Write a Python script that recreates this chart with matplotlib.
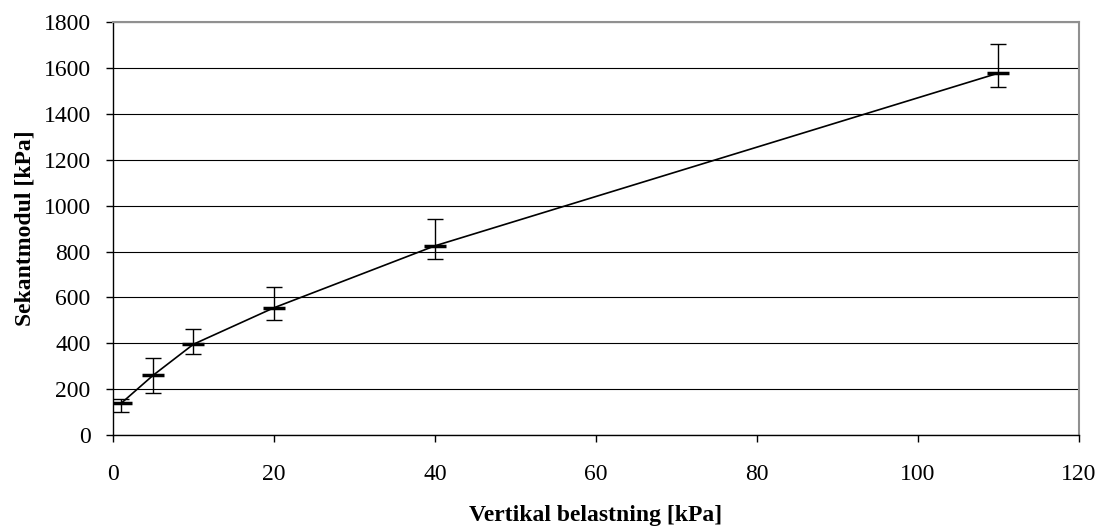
import matplotlib
matplotlib.use("Agg")
import matplotlib.pyplot as plt

# load (kPa) vs secant modulus (kPa), with error bar extents
load = [1, 5, 10, 20, 40, 110]
modulus = [138, 261, 396, 555, 825, 1578]
err_low = [100, 182, 353, 501, 767, 1517]
err_high = [158, 337, 462, 645, 942, 1704]

yerr = [[m - lo for m, lo in zip(modulus, err_low)],
        [hi - m for m, hi in zip(modulus, err_high)]]

plt.rcParams['font.family'] = ['Liberation Serif', 'DejaVu Serif']

fig = plt.figure(figsize=(11.01, 5.28), dpi=100)
ax = fig.add_axes([0.1026, 0.176, 0.8774, 0.782])

ax.plot(load, modulus, color='black', linewidth=1.2, zorder=3)
ax.errorbar(load, modulus, yerr=yerr, fmt='none', ecolor='black',
            elinewidth=1.0, capsize=6, capthick=1.0, zorder=3)
ax.plot(load, modulus, linestyle='none', marker='_', markersize=16,
        markeredgewidth=2.5, color='black', zorder=4)

ax.set_xlim(0, 120)
ax.set_ylim(0, 1800)
ax.set_xticks(range(0, 121, 20))
ax.set_yticks(range(0, 1801, 200))
ax.yaxis.grid(True, color='black', linewidth=0.8)
ax.set_axisbelow(True)

ax.spines['top'].set_color('#909090')
ax.spines['right'].set_color('#909090')
ax.spines['top'].set_linewidth(1.5)
ax.spines['right'].set_linewidth(1.5)
ax.spines['left'].set_linewidth(1.0)
ax.spines['bottom'].set_linewidth(1.0)

ax.tick_params(axis='both', direction='out', length=5, width=1, labelsize=17)
ax.tick_params(axis='y', pad=11)
ax.tick_params(axis='x', pad=16)

ax.set_xlabel('Vertikal belastning [kPa]', fontsize=17, fontweight='bold',
              labelpad=14)
ax.set_ylabel('Sekantmodul [kPa]', fontsize=17, fontweight='bold',
              labelpad=6)

fig.savefig('out.png', dpi=100, facecolor='white')
